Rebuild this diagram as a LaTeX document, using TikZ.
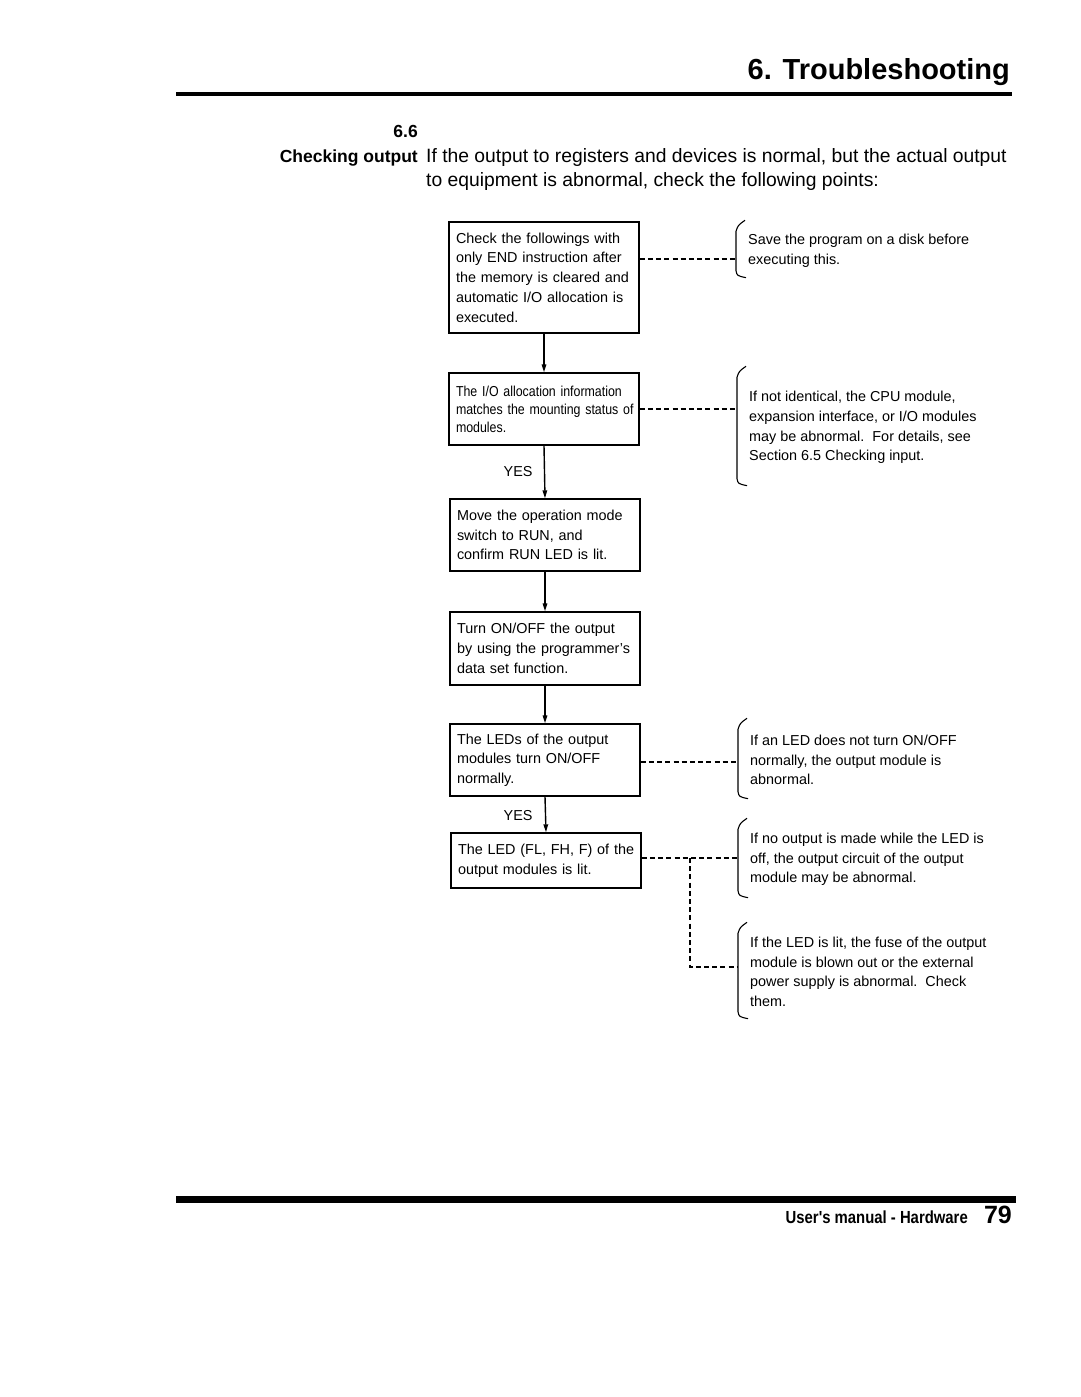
\documentclass[tikz,border=0pt]{standalone}
\usepackage{fontspec}
\setmainfont{Liberation Sans}
\newfontfamily\condfont[FakeStretch=0.86]{Liberation Sans}
\newfontfamily\footfont[FakeStretch=0.85]{Liberation Sans}
\usetikzlibrary{arrows.meta}
\newcommand\lineof[1]{\mbox{#1}}
\tikzset{
  flowbox/.style={draw, line width=1.4pt, minimum width=190pt, text width=176pt, inner xsep=7pt, align=left,
    font=\fontsize{14.4}{19.7}\selectfont},
  notebox/.style={anchor=west, inner xsep=12pt, inner ysep=0pt, align=left,
    font=\fontsize{14.4}{19.6}\selectfont},
  flowarrow/.style={line width=1.4pt, -{Triangle[length=8pt,width=4.5pt]}},
  dashline/.style={line width=1.1pt, dash pattern=on 5pt off 3.2pt},
  brk/.style={line width=1.1pt},
  yeslabel/.style={font=\fontsize{14.4}{17}\selectfont, anchor=east}
}
\newcommand\notebracket[1]{%
  \draw[brk] ([xshift=9pt,yshift=6pt]#1.north west) .. controls ([xshift=2pt,yshift=1pt]#1.north west) .. ([yshift=-5pt]#1.north west)
    -- ([yshift=4pt]#1.south west) .. controls ([xshift=1pt,yshift=-1pt]#1.south west) .. ([xshift=10pt,yshift=-3pt]#1.south west);}
\begin{document}
\begin{tikzpicture}[x=1pt,y=-1pt]
\useasboundingbox (0,0) rectangle (1080,1397);
\fill[white] (0,0) rectangle (1080,1397);

% header
\node[anchor=base east, inner sep=0pt, font=\fontsize{29}{30}\selectfont\bfseries] (title) at (1010,80) {6. Troubleshooting};
\draw[line width=4pt] (176,94) -- (1012,94);
\node[anchor=base east, inner sep=0pt, font=\fontsize{17.5}{20}\selectfont\bfseries] (secnum) at (418,137) {6.6};
\node[anchor=base east, inner sep=0pt, font=\fontsize{17.5}{20}\selectfont\bfseries] (sectitle) at (418,162) {Checking output};
\node[anchor=base west, inner sep=0pt, align=left, font=\fontsize{19.3}{24}\selectfont] (intro) at (426,186)
  {If the output to registers and devices is normal, but the actual output\\to equipment is abnormal, check the following points:};

% flow boxes
\node[flowbox, minimum height=111pt] (b1) at (544,277.5)
  {\lineof{Check the followings with}\\\lineof{only END instruction after}\\\lineof{the memory is cleared and}\\\lineof{automatic I/O allocation is}\\\lineof{executed.}};
\node[flowbox, minimum height=72pt, font=\fontsize{14.4}{18}\condfont] (b2) at (544,409)
  {\lineof{The I/O allocation information}\\\lineof{matches the mounting status of}\\\lineof{modules.}};
\node[flowbox, minimum height=72pt] (b3) at (545,535)
  {\lineof{Move the operation mode}\\\lineof{switch to RUN, and}\\\lineof{confirm RUN LED is lit.}};
\node[flowbox, minimum height=73pt] (b4) at (545,648.5)
  {\lineof{Turn ON/OFF the output}\\\lineof{by using the programmer's}\\\lineof{data set function.}};
\node[flowbox, minimum height=72pt] (b5) at (545,760)
  {\lineof{The LEDs of the output}\\\lineof{modules turn ON/OFF}\\\lineof{normally.}};
\node[flowbox, minimum height=55pt] (b6) at (546,860.5)
  {\lineof{The LED (FL, FH, F) of the}\\\lineof{output modules is lit.}};

\draw[flowarrow] (b1.south) -- (b2.north);
\draw[flowarrow] (b2.south) -- (b3.north);
\draw[flowarrow] (b3.south) -- (b4.north);
\draw[flowarrow] (b4.south) -- (b5.north);
\draw[flowarrow] (b5.south) -- (b6.north);
\node[yeslabel] (yes1) at (536,472) {YES};
\node[yeslabel] (yes2) at (536,816) {YES};

% notes
\node[notebox, minimum height=48pt] (n1) at (736,250.5)
  {Save the program on a disk before\\executing this.};
\node[notebox, minimum height=110pt] (n2) at (737,427.5)
  {If not identical, the CPU module,\\expansion interface, or I/O modules\\may be abnormal.\ \ For details, see\\Section 6.5 Checking input.};
\node[notebox, minimum height=71pt] (n3) at (738,760)
  {If an LED does not turn ON/OFF\\normally, the output module is\\abnormal.};
\node[notebox, minimum height=70pt] (n4) at (738,859.5)
  {If no output is made while the LED is\\off, the output circuit of the output\\module may be abnormal.};
\node[notebox, minimum height=87pt] (n5) at (738,972)
  {If the LED is lit, the fuse of the output\\module is blown out or the external\\power supply is abnormal.\ \ Check\\them.};
\notebracket{n1}
\notebracket{n2}
\notebracket{n3}
\notebracket{n4}
\notebracket{n5}

% dashed connectors
\coordinate (d1) at (0,259);
\coordinate (d2) at (0,409);
\coordinate (d3) at (0,762);
\coordinate (d4) at (0,858);
\coordinate (d5) at (0,967);
\coordinate (fork) at (690,858);
\draw[dashline] (b1.east |- d1) -- (n1.west |- d1);
\draw[dashline] (b2.east |- d2) -- (n2.west |- d2);
\draw[dashline] (b5.east |- d3) -- (n3.west |- d3);
\draw[dashline] (b6.east |- d4) -- (n4.west |- d4);
\draw[dashline] (fork) -- (fork |- d5) -- (n5.west |- d5);

% footer
\draw[line width=7pt] (176,1199) -- (1016,1199);
\node[anchor=base east, inner sep=0pt, font=\fontsize{17.5}{20}\footfont\bfseries] (foot) at (968,1223) {User's manual - Hardware};
\node[anchor=base east, inner sep=0pt, font=\fontsize{25}{28}\selectfont\bfseries] (page) at (1012,1223) {79};
\end{tikzpicture}
\end{document}
